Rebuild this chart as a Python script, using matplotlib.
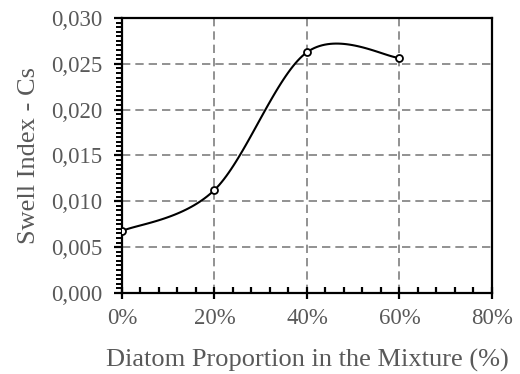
import numpy as np
import matplotlib
matplotlib.use("Agg")
from matplotlib import pyplot as plt
from matplotlib.ticker import MultipleLocator, FuncFormatter

diatom_pct = [0, 20, 40, 60]
swell_cs = [0.00676, 0.01124, 0.02626, 0.02564]
x_ticks = [0, 20, 40, 60, 80]
y_ticks = [0.000, 0.005, 0.010, 0.015, 0.020, 0.025, 0.030]

plt.rcParams['font.family'] = ['Liberation Serif', 'DejaVu Serif']
grey_txt = '#595959'

fig = plt.figure(figsize=(5.2, 3.74), dpi=100)
ax = fig.add_axes([0.2346, 0.2166, 0.7115, 0.7354])

# excel-like smoothed line (catmull-rom bezier, done in pixel-ish space)
xs = np.array(diatom_pct, float) / 80 * 370
ys = np.array(swell_cs) / 0.03 * 275
P = np.column_stack([xs, ys])
P = np.vstack([P[0], P, P[-1]])
curve = []
t = np.linspace(0, 1, 40)[:, None]
for i in range(1, len(P) - 2):
    p0, p1, p2, p3 = P[i - 1], P[i], P[i + 1], P[i + 2]
    c1 = p1 + (p2 - p0) / 6
    c2 = p2 - (p3 - p1) / 6
    seg = (1 - t)**3 * p1 + 3 * (1 - t)**2 * t * c1 + 3 * (1 - t) * t**2 * c2 + t**3 * p2
    curve.append(seg)
curve = np.vstack(curve)
ax.plot(curve[:, 0] / 370 * 80, curve[:, 1] / 275 * 0.03, color='black', lw=1.5, zorder=3)
ax.plot(diatom_pct, swell_cs, 'o', ms=5, mfc='white', mec='black', mew=1.3, zorder=4)

ax.set_xlim(0, 80)
ax.set_ylim(0, 0.03)
ax.set_xticks(x_ticks)
ax.set_yticks(y_ticks)
ax.xaxis.set_minor_locator(MultipleLocator(4))
ax.yaxis.set_minor_locator(MultipleLocator(0.0005))
ax.xaxis.set_major_formatter(FuncFormatter(lambda v, p: f"{v:.0f}%"))
ax.yaxis.set_major_formatter(FuncFormatter(lambda v, p: f"{v:.3f}".replace('.', ',')))

ax.grid(True, which='major', color='#7f7f7f', ls=(0, (5, 3)), lw=1.2)
ax.set_axisbelow(True)
for s in ax.spines.values():
    s.set_linewidth(1.6)
    s.set_color('black')

ax.tick_params(axis='x', which='major', direction='inout', length=8, width=1.6, pad=7,
               labelsize=16.5)
ax.tick_params(axis='x', which='minor', direction='in', length=4, width=1.6)
ax.tick_params(axis='y', which='major', direction='out', length=6, width=1.6, pad=8,
               labelsize=16.5)
ax.tick_params(axis='y', which='minor', direction='out', length=4, width=1.4)
for lab in ax.get_xticklabels() + ax.get_yticklabels():
    lab.set_color(grey_txt)

ax.set_xlabel('Diatom Proportion in the Mixture (%)', fontsize=19, color=grey_txt, labelpad=14)
ax.set_ylabel('Swell Index - Cs', fontsize=19, color=grey_txt, labelpad=8)

fig.savefig('out.png', dpi=100)
